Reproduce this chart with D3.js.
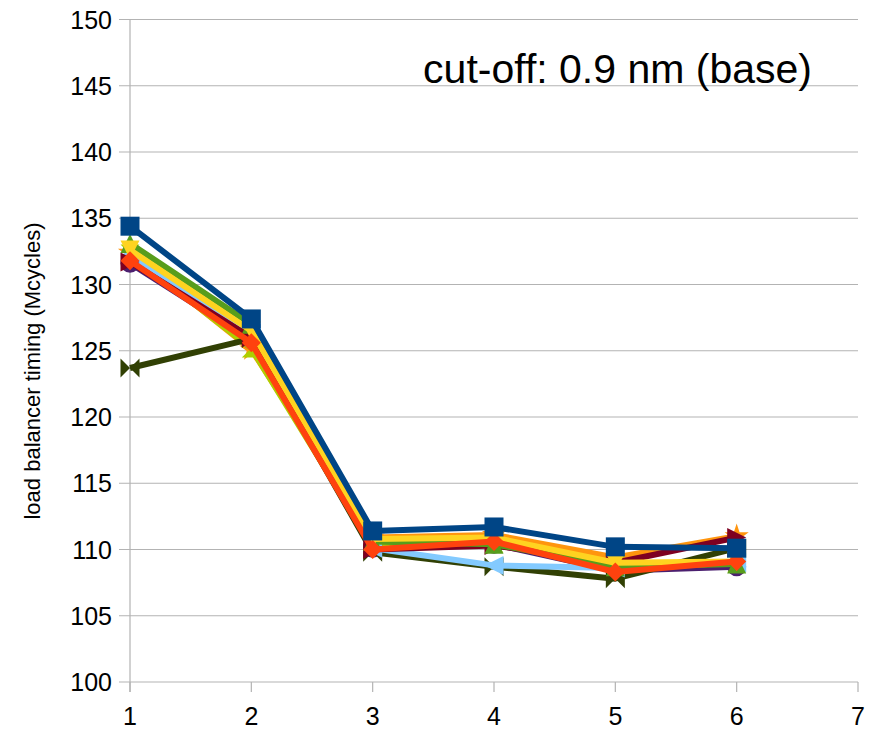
<!DOCTYPE html>
<html>
<head>
<meta charset="utf-8">
<script src="https://cdn.jsdelivr.net/npm/d3@7"></script>
<style>
  body { margin: 0; background: #fff; }
  svg { font-family: "Liberation Sans", Arial, sans-serif; }
</style>
</head>
<body>
<svg id="chart" width="875" height="734"></svg>
<script>
// x positions
var xValues = [1, 2, 3, 4, 5, 6];
var xTicks = [1, 2, 3, 4, 5, 6, 7];
var yTicks = [100, 105, 110, 115, 120, 125, 130, 135, 140, 145, 150];

// one array per series (LibreOffice default palette / symbol order)
var seriesNames = ["s1", "s2", "s3", "s4", "s5", "s6", "s7", "s8", "s9", "s10"];
var seriesColors = ["#004586", "#ff420e", "#ffd320", "#579d1c", "#7e0021",
                    "#83caff", "#314004", "#aecf00", "#4b1f6f", "#ff950e"];
var seriesSymbols = ["square", "diamond", "down", "up", "right",
                     "left", "bowtie", "sandglass", "circle", "star"];

var s1 = [134.4, 127.4, 111.4, 111.7, 110.2, 110.1];
var s2 = [131.8, 125.6, 110.0, 110.6, 108.3, 109.1];
var s3 = [132.6, 126.5, 110.8, 110.9, 109.0, 109.1];
var s4 = [133.1, 127.0, 110.6, 110.4, 108.7, 108.9];
var s5 = [131.7, 126.0, 110.0, 110.3, 109.0, 110.9];
var s6 = [132.2, 126.3, 110.1, 108.8, 108.6, 109.0];
var s7 = [123.7, 125.9, 109.8, 108.7, 107.8, 110.1];
var s8 = [132.3, 125.2, 110.3, 110.5, 108.8, 109.0];
var s9 = [131.6, 125.8, 110.1, 110.4, 108.4, 108.7];
var s10 = [132.4, 125.1, 110.9, 111.1, 109.4, 111.0];
var seriesValues = [s1, s2, s3, s4, s5, s6, s7, s8, s9, s10];

var titleText = "cut-off: 0.9 nm (base)";
var yLabel = "load balancer timing (Mcycles)";

var svg = d3.select("#chart");
var plotLeft = 130, plotRight = 858, plotTop = 19.5, plotBottom = 682;

var x = d3.scaleLinear().domain([1, 7]).range([plotLeft, plotRight]);
var y = d3.scaleLinear().domain([100, 150]).range([plotBottom, plotTop]);

// horizontal grid
svg.append("g")
  .selectAll("line")
  .data(yTicks)
  .enter()
  .append("line")
  .attr("x1", plotLeft - 11)
  .attr("x2", plotRight)
  .attr("y1", function (d) { return y(d); })
  .attr("y2", function (d) { return y(d); })
  .attr("stroke", "#b3b3b3")
  .attr("stroke-width", 1.2);

// y axis line
svg.append("line")
  .attr("x1", plotLeft).attr("x2", plotLeft)
  .attr("y1", plotTop).attr("y2", plotBottom + 10)
  .attr("stroke", "#b3b3b3").attr("stroke-width", 1.2);

// x ticks
svg.append("g")
  .selectAll("line")
  .data(xTicks)
  .enter()
  .append("line")
  .attr("x1", function (d) { return x(d); })
  .attr("x2", function (d) { return x(d); })
  .attr("y1", plotBottom)
  .attr("y2", plotBottom + 10)
  .attr("stroke", "#b3b3b3")
  .attr("stroke-width", 1.2);

// y tick labels
svg.append("g")
  .selectAll("text")
  .data(yTicks)
  .enter()
  .append("text")
  .attr("x", plotLeft - 18)
  .attr("y", function (d) { return y(d); })
  .attr("dy", "0.36em")
  .attr("text-anchor", "end")
  .attr("font-size", 25)
  .text(function (d) { return d; });

// x tick labels
svg.append("g")
  .selectAll("text")
  .data(xTicks)
  .enter()
  .append("text")
  .attr("x", function (d) { return x(d); })
  .attr("y", plotBottom + 43)
  .attr("text-anchor", "middle")
  .attr("font-size", 25)
  .text(function (d) { return d; });

// y axis title
svg.append("text")
  .attr("transform", "translate(40," + 371 + ") rotate(-90)")
  .attr("text-anchor", "middle")
  .attr("font-size", 22)
  .text(yLabel);

// annotation
svg.append("text")
  .attr("x", 812)
  .attr("y", 83)
  .attr("text-anchor", "end")
  .attr("font-size", 41)
  .text(titleText);

function markerPath(sym, s) {
  var h = s / 2;
  switch (sym) {
    case "square": return "M" + -h + "," + -h + "H" + h + "V" + h + "H" + -h + "Z";
    case "diamond": return "M0," + -h + "L" + h + ",0L0," + h + "L" + -h + ",0Z";
    case "down": return "M" + -h + "," + -h + "H" + h + "L0," + h + "Z";
    case "up": return "M" + -h + "," + h + "H" + h + "L0," + -h + "Z";
    case "right": return "M" + -h + "," + -h + "L" + h + ",0L" + -h + "," + h + "Z";
    case "left": return "M" + h + "," + -h + "L" + -h + ",0L" + h + "," + h + "Z";
    case "bowtie": return "M" + -h + "," + -h + "L" + h + "," + h + "V" + -h + "L" + -h + "," + h + "Z";
    case "sandglass": return "M" + -h + "," + -h + "H" + h + "L" + -h + "," + h + "H" + h + "Z";
    case "circle": return d3.symbol().type(d3.symbolCircle).size(Math.PI * h * h)();
    case "star": return d3.symbol().type(d3.symbolStar).size(s * s * 0.5)();
  }
}

var line = d3.line()
  .x(function (d, i) { return x(xValues[i]); })
  .y(function (d) { return y(d); });

// draw last series first so series 1 ends on top
for (var k = seriesValues.length - 1; k >= 0; k--) {
  var g = svg.append("g");
  g.append("path")
    .datum(seriesValues[k])
    .attr("d", line)
    .attr("fill", "none")
    .attr("stroke", seriesColors[k])
    .attr("stroke-width", 6)
    .attr("stroke-linejoin", "round");
  g.selectAll("path.m")
    .data(seriesValues[k])
    .enter()
    .append("path")
    .attr("class", "m")
    .attr("transform", function (d, i) {
      return "translate(" + x(xValues[i]) + "," + y(d) + ")";
    })
    .attr("d", markerPath(seriesSymbols[k], 19))
    .attr("fill", seriesColors[k]);
}
</script>
</body>
</html>
